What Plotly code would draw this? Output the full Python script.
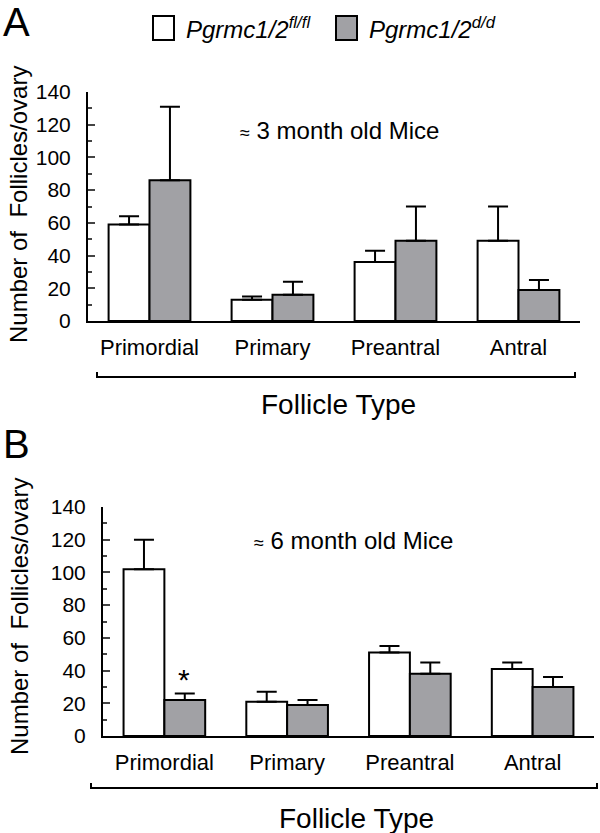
import plotly.graph_objects as go

# Follicle counts per ovary (mean, upper SEM)
categories = ["Primordial", "Primary", "Preantral", "Antral"]

a_flfl = [59, 13, 36, 49]
a_flfl_err = [5, 2, 7, 21]
a_dd = [86, 16, 49, 19]
a_dd_err = [45, 8, 21, 6]

b_flfl = [102, 21, 51, 41]
b_flfl_err = [18, 6, 4, 4]
b_dd = [22, 19, 38, 30]
b_dd_err = [4, 3, 7, 6]

FONT = "Liberation Sans, Arial, sans-serif"
GRAY = "#a1a1a5"
W, H = 600, 833


def px(x):
    return x / W


def py(y):
    return 1 - y / H


def bar(x, y, err, color, xa, ya):
    return go.Bar(x=x, y=y, xaxis=xa, yaxis=ya, showlegend=False,
                  marker=dict(color=color, line=dict(color="black", width=2)),
                  error_y=dict(type="data", symmetric=False, array=err,
                               arrayminus=[0] * len(err), color="black",
                               thickness=2, width=10))


fig = go.Figure()
fig.add_trace(bar(categories, a_flfl, a_flfl_err, "white", "x", "y"))
fig.add_trace(bar(categories, a_dd, a_dd_err, GRAY, "x", "y"))
fig.add_trace(bar(categories, b_flfl, b_flfl_err, "white", "x2", "y2"))
fig.add_trace(bar(categories, b_dd, b_dd_err, GRAY, "x2", "y2"))

xax = dict(showline=True, linewidth=2, linecolor="black", ticks="",
           range=[-0.5, 3.5], tickfont=dict(size=22, color="black"),
           ticklabelstandoff=6, showgrid=False, zeroline=False, automargin=False)
yax = dict(showline=True, linewidth=2, linecolor="black", range=[0, 140],
           dtick=20, ticks="inside", ticklen=7, tickwidth=2,
           tickfont=dict(size=21, color="black"), showgrid=False,
           zeroline=False, ticklabelstandoff=11, automargin=False,
           minor=dict(dtick=10, ticks="inside", ticklen=4, tickwidth=2,
                      showgrid=False))

fig.update_layout(
    template="none",
    width=W, height=H, margin=dict(l=0, r=0, t=0, b=0, pad=0, autoexpand=False),
    plot_bgcolor="white", paper_bgcolor="white",
    font=dict(family=FONT, color="black"),
    barmode="group", bargap=0.335, bargroupgap=0,
    xaxis=dict(xax, domain=[px(88), px(580)], anchor="y"),
    yaxis=dict(yax, domain=[py(321), py(92)], anchor="x"),
    xaxis2=dict(xax, domain=[px(103), px(594)], anchor="y2"),
    yaxis2=dict(yax, domain=[py(736), py(507)], anchor="x2"),
)

approx = '<span style="font-size:18px">≈</span>'
ann = []
# panel letters
ann.append(dict(text="A", x=px(1), y=py(22), xanchor="left", yanchor="middle", font=dict(size=40)))
ann.append(dict(text="B", x=px(1), y=py(444), xanchor="left", yanchor="middle", font=dict(size=40)))
# legend texts
ann.append(dict(text="<i>Pgrmc1/2<sup>fl/fl</sup></i>", x=px(184), y=py(28),
                xanchor="left", yanchor="middle", font=dict(size=24)))
ann.append(dict(text="<i>Pgrmc1/2<sup>d/d</sup></i>", x=px(367), y=py(28),
                xanchor="left", yanchor="middle", font=dict(size=24)))
# age labels
ann.append(dict(text=approx + " 3 month old Mice", x=px(238), y=py(130), xanchor="left",
                yanchor="middle", font=dict(size=24)))
ann.append(dict(text=approx + " 6 month old Mice", x=px(252), y=py(540), xanchor="left",
                yanchor="middle", font=dict(size=24)))
# y titles
ann.append(dict(text="Number of  Follicles/ovary", x=px(19), y=py(205), textangle=-90,
                xanchor="center", yanchor="middle", font=dict(size=24)))
ann.append(dict(text="Number of  Follicles/ovary", x=px(19), y=py(617), textangle=-90,
                xanchor="center", yanchor="middle", font=dict(size=24)))
# x titles
ann.append(dict(text="Follicle Type", x=px(338), y=py(404), xanchor="center",
                yanchor="middle", font=dict(size=28)))
ann.append(dict(text="Follicle Type", x=px(356), y=py(818), xanchor="center",
                yanchor="middle", font=dict(size=28)))
for a in ann:
    a.update(xref="paper", yref="paper", showarrow=False)

# significance star over the d/d primordial bar, 6 months
ann.append(dict(text="*", x="Primordial", y=b_dd[0] + b_dd_err[0], xref="x2", yref="y2",
                xshift=20, yshift=14, showarrow=False, font=dict(size=30)))
fig.update_layout(annotations=ann)

shapes = []
# legend boxes
shapes.append(dict(type="rect", x0=px(153), x1=px(174), y0=py(16), y1=py(40),
                   fillcolor="white", line=dict(color="black", width=2)))
shapes.append(dict(type="rect", x0=px(336), x1=px(357), y0=py(16), y1=py(40),
                   fillcolor=GRAY, line=dict(color="black", width=2)))


# brackets under the category labels
def bracket(x0, x1, y):
    return dict(type="path", path=f"M {px(x0)},{py(y - 5)} L {px(x0)},{py(y)} L {px(x1)},{py(y)} L {px(x1)},{py(y - 5)}",
                xref="paper", yref="paper", line=dict(color="black", width=2))


shapes.append(bracket(97, 575, 377))
shapes.append(bracket(91, 597, 788))
for s in shapes:
    s.setdefault("xref", "paper")
    s.setdefault("yref", "paper")
fig.update_layout(shapes=shapes)

# drop the default page margin so the 600x833 figure fills the window
fig.write_html("out.html", config={"displayModeBar": False},
               post_script="document.body.style.margin='0';")
